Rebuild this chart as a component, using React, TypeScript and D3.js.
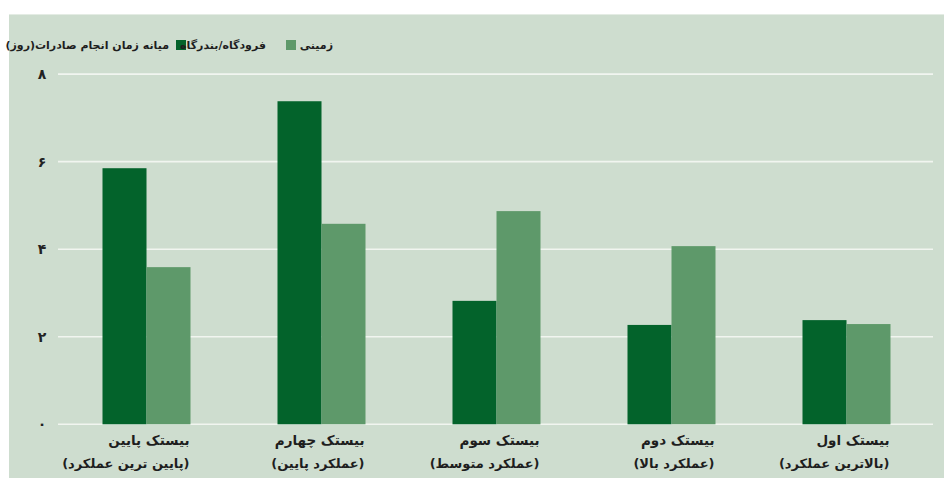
import React from "react";
import * as d3 from "d3";

const categoriesLine1 = ["بیستک پایین", "بیستک چهارم", "بیستک سوم", "بیستک دوم", "بیستک اول"];
const categoriesLine2 = ["(پایین ترین عملکرد)", "(عملکرد پایین)", "(عملکرد متوسط)", "(عملکرد بالا)", "(بالاترین عملکرد)"];
const seriesNames = ["فرودگاه/بندرگاه", "زمینی"];
const airportValues = [5.85, 7.38, 2.82, 2.27, 2.38];
const landValues = [3.59, 4.58, 4.87, 4.07, 2.29];
const yTicks = [0, 2, 4, 6, 8];
const yTickLabels = ["۰", "۲", "۴", "۶", "۸"];
const legendTitle = "میانه زمان انجام صادرات(روز)";

const W = 944;
const H = 478;
const COLORS = ["#03632B", "#5E996A"];
const BG = "#CEDDCF";
const GRID = "#F1F5F0";
const FONT = "'DejaVu Sans', sans-serif";

export default function App() {
  const x = d3.scaleBand<number>().domain(d3.range(categoriesLine1.length)).range([59, 934]).padding(0);
  const bw = x.bandwidth();
  const xs = d3.scaleBand<number>().domain([0, 1]).range([bw / 2 - 44, bw / 2 + 44]).padding(0);
  const y = d3.scaleLinear().domain([0, 8]).range([424.3, 74.1]);
  const series = [airportValues, landValues];

  return (
    <svg width={W} height={H} style={{ position: "absolute", left: 0, top: 0, display: "block" }} fontFamily={FONT}>
      <rect x={0} y={0} width={W} height={H} fill="#ffffff" />
      <rect x={9} y={14} width={W - 9} height={H - 14} fill={BG} />
      <line x1={9} x2={W} y1={14.5} y2={14.5} stroke="#E4ECE4" strokeWidth={1} />
      {yTicks.map((t, i) => (
        <g key={t}>
          <line x1={58} x2={933} y1={y(t)} y2={y(t)} stroke={GRID} strokeWidth={1.6} />
          <text x={42} y={y(t)} dy="0.35em" textAnchor="middle" fontSize={14} fontWeight="bold" fill="#222">
            {yTickLabels[i]}
          </text>
        </g>
      ))}
      {series.map((vals, s) =>
        vals.map((v, i) => (
          <rect
            key={`${s}-${i}`}
            x={(x(i) as number) + (xs(s) as number)}
            y={y(v)}
            width={xs.bandwidth()}
            height={y(0) - y(v)}
            fill={COLORS[s]}
          />
        ))
      )}
      {categoriesLine1.map((c, i) => {
        const rx = (x(i) as number) + bw / 2 + 43;
        return (
          <g key={c} fill="#1e1e1e" fontWeight="bold">
            <text x={rx} y={445} fontSize={13.5} direction="rtl" textAnchor="start">{c}</text>
            <text x={rx} y={468} fontSize={13} direction="rtl" textAnchor="start">{categoriesLine2[i]}</text>
          </g>
        );
      })}
      <g fontSize={11} fontWeight="bold" fill="#1e1e1e">
        <text x={169} y={49} direction="rtl" textAnchor="start">{legendTitle}</text>
        <rect x={176} y={40} width={10} height={10} fill={COLORS[0]} />
        <text x={266} y={49} direction="rtl" textAnchor="start">{seriesNames[0]}</text>
        <rect x={286} y={40} width={10} height={10} fill={COLORS[1]} />
        <text x={333} y={49} direction="rtl" textAnchor="start">{seriesNames[1]}</text>
      </g>
    </svg>
  );
}
